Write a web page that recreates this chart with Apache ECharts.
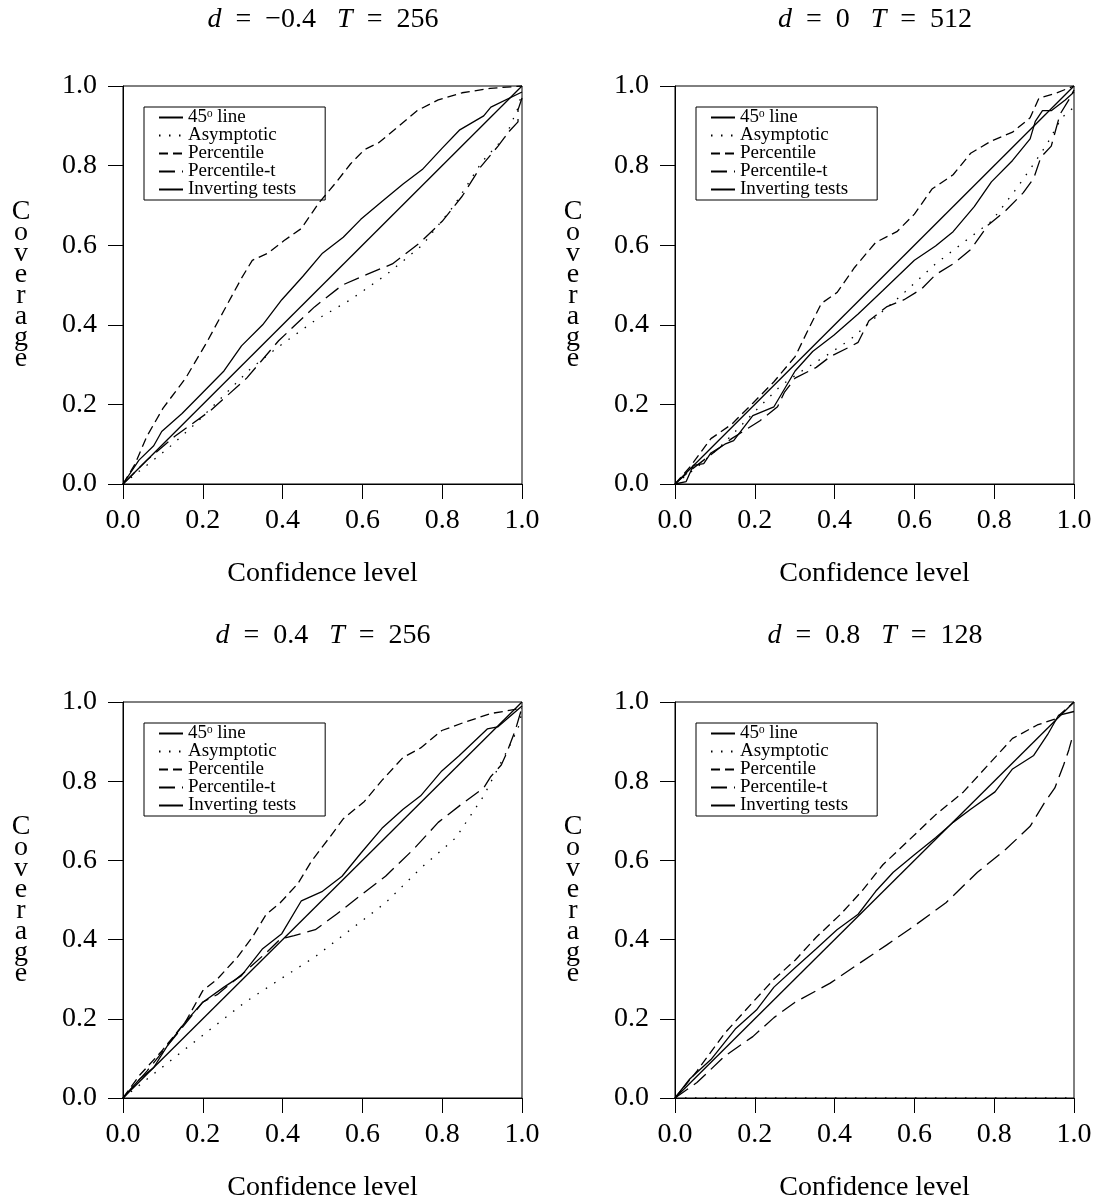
<!DOCTYPE html>
<html>
<head>
<meta charset="utf-8">
<script src="https://cdn.jsdelivr.net/npm/echarts@6/dist/echarts.min.js"></script>
<style>
  html, body { margin: 0; background: #fff; }
  #chart { width: 1100px; height: 1203px; }
</style>
</head>
<body>
<div id="chart"></div>
<script>
// legend order / series names
const seriesNames = ['45° line', 'Asymptotic', 'Percentile', 'Percentile-t', 'Inverting tests'];
const panelD = ['−0.4', '0', '0.4', '0.8'];
const panelT = ['256', '512', '256', '128'];

// 45 degree reference line (same in every panel)
const diagonal = [[0, 0], [1, 1]];

// panel 1: d = -0.4, T = 256
const p1Asymptotic = [[0, 0], [0.11, 0.087], [0.18, 0.15], [0.25, 0.22], [0.32, 0.29], [0.39, 0.345], [0.48, 0.41], [0.57, 0.463], [0.66, 0.526], [0.75, 0.6], [0.83, 0.7], [0.9, 0.81], [0.96, 0.875], [0.99, 0.945], [1, 0.985]];
const p1Percentile = [[0, 0], [0.03, 0.05], [0.06, 0.12], [0.1, 0.19], [0.157, 0.266], [0.21, 0.356], [0.253, 0.436], [0.297, 0.517], [0.324, 0.562], [0.363, 0.58], [0.403, 0.611], [0.447, 0.642], [0.49, 0.705], [0.535, 0.759], [0.57, 0.804], [0.605, 0.84], [0.64, 0.857], [0.684, 0.893], [0.737, 0.938], [0.79, 0.965], [0.85, 0.983], [0.92, 0.994], [1, 1]];
const p1PercentileT = [[0, 0], [0.06, 0.06], [0.13, 0.12], [0.22, 0.185], [0.31, 0.266], [0.39, 0.36], [0.48, 0.445], [0.55, 0.5], [0.61, 0.526], [0.675, 0.553], [0.745, 0.607], [0.8, 0.66], [0.85, 0.723], [0.895, 0.795], [0.94, 0.849], [0.966, 0.884], [0.99, 0.91], [0.99, 0.94], [1, 0.97]];
const p1Inverting = [[0, 0], [0.04, 0.06], [0.077, 0.096], [0.097, 0.132], [0.148, 0.177], [0.2, 0.23], [0.253, 0.284], [0.297, 0.347], [0.35, 0.4], [0.398, 0.463], [0.451, 0.522], [0.5, 0.58], [0.552, 0.62], [0.596, 0.665], [0.649, 0.71], [0.702, 0.754], [0.75, 0.79], [0.8, 0.844], [0.843, 0.889], [0.904, 0.925], [0.922, 0.947], [1, 0.985]];

// panel 2: d = 0, T = 512
const p2Asymptotic = [[0, 0], [0.055, 0.042], [0.125, 0.105], [0.195, 0.177], [0.266, 0.248], [0.318, 0.284], [0.389, 0.329], [0.442, 0.365], [0.512, 0.427], [0.565, 0.472], [0.653, 0.553], [0.723, 0.607], [0.793, 0.66], [0.855, 0.741], [0.899, 0.804], [0.934, 0.857], [0.969, 0.92], [1, 0.947]];
const p2Percentile = [[0, 0], [0.037, 0.042], [0.09, 0.114], [0.142, 0.15], [0.195, 0.203], [0.248, 0.257], [0.301, 0.32], [0.336, 0.392], [0.367, 0.454], [0.406, 0.481], [0.45, 0.544], [0.503, 0.607], [0.556, 0.634], [0.6, 0.678], [0.644, 0.741], [0.697, 0.777], [0.741, 0.831], [0.793, 0.862], [0.846, 0.884], [0.89, 0.92], [0.912, 0.969], [0.952, 0.981], [1, 1]];
const p2PercentileT = [[0, 0], [0.037, 0.033], [0.072, 0.06], [0.142, 0.114], [0.213, 0.159], [0.257, 0.194], [0.274, 0.23], [0.301, 0.266], [0.354, 0.293], [0.389, 0.32], [0.433, 0.342], [0.459, 0.356], [0.486, 0.41], [0.53, 0.445], [0.574, 0.463], [0.618, 0.49], [0.653, 0.526], [0.697, 0.553], [0.741, 0.589], [0.785, 0.651], [0.829, 0.687], [0.873, 0.732], [0.899, 0.768], [0.917, 0.821], [0.943, 0.849], [0.965, 0.929], [0.987, 0.965], [1, 0.99]];
const p2Inverting = [[0, 0], [0.028, 0.006], [0.046, 0.047], [0.072, 0.051], [0.09, 0.078], [0.125, 0.1], [0.147, 0.109], [0.195, 0.172], [0.248, 0.194], [0.301, 0.284], [0.345, 0.333], [0.398, 0.374], [0.459, 0.427], [0.521, 0.486], [0.6, 0.562], [0.653, 0.598], [0.697, 0.634], [0.75, 0.697], [0.793, 0.759], [0.846, 0.813], [0.89, 0.867], [0.903, 0.911], [0.921, 0.938], [0.943, 0.938], [0.978, 0.965], [1, 0.985]];

// panel 3: d = 0.4, T = 256
const p3Asymptotic = [[0, 0], [0.086, 0.068], [0.183, 0.145], [0.306, 0.242], [0.394, 0.3], [0.482, 0.357], [0.57, 0.425], [0.658, 0.493], [0.746, 0.58], [0.834, 0.657], [0.904, 0.763], [0.939, 0.831], [0.974, 0.899], [0.991, 0.937], [1, 0.976]];
const p3Percentile = [[0, 0], [0.042, 0.058], [0.095, 0.116], [0.157, 0.193], [0.2, 0.271], [0.236, 0.3], [0.288, 0.357], [0.324, 0.406], [0.359, 0.464], [0.394, 0.493], [0.438, 0.541], [0.473, 0.599], [0.517, 0.657], [0.552, 0.705], [0.605, 0.749], [0.649, 0.802], [0.702, 0.86], [0.746, 0.884], [0.799, 0.928], [0.851, 0.947], [0.922, 0.971], [1, 0.984]];
const p3PercentileT = [[0, 0], [0.06, 0.068], [0.13, 0.155], [0.2, 0.242], [0.236, 0.261], [0.306, 0.319], [0.359, 0.367], [0.394, 0.401], [0.429, 0.41], [0.482, 0.425], [0.535, 0.464], [0.596, 0.512], [0.658, 0.56], [0.728, 0.628], [0.79, 0.696], [0.851, 0.744], [0.904, 0.783], [0.922, 0.812], [0.948, 0.841], [0.961, 0.87], [0.983, 0.928], [1, 0.986]];
const p3Inverting = [[0, 0], [0.042, 0.048], [0.077, 0.077], [0.113, 0.135], [0.157, 0.193], [0.2, 0.242], [0.253, 0.28], [0.297, 0.309], [0.35, 0.377], [0.398, 0.415], [0.447, 0.498], [0.5, 0.522], [0.549, 0.56], [0.596, 0.618], [0.649, 0.681], [0.702, 0.729], [0.746, 0.763], [0.799, 0.826], [0.843, 0.865], [0.913, 0.932], [0.939, 0.937], [1, 0.99]];

// panel 4: d = 0.8, T = 128
const p4Asymptotic = [[0, 0], [1, 0]];
const p4Percentile = [[0, 0], [0.055, 0.068], [0.125, 0.164], [0.195, 0.242], [0.248, 0.3], [0.301, 0.348], [0.354, 0.406], [0.415, 0.464], [0.468, 0.522], [0.521, 0.589], [0.582, 0.647], [0.653, 0.715], [0.723, 0.773], [0.793, 0.85], [0.846, 0.908], [0.908, 0.942], [0.952, 0.957], [1, 1]];
const p4PercentileT = [[0, 0], [0.055, 0.039], [0.125, 0.106], [0.195, 0.155], [0.248, 0.203], [0.301, 0.242], [0.389, 0.29], [0.459, 0.338], [0.53, 0.386], [0.6, 0.435], [0.679, 0.493], [0.758, 0.57], [0.829, 0.628], [0.89, 0.686], [0.925, 0.744], [0.952, 0.783], [0.974, 0.841], [0.987, 0.879], [0.995, 0.908], [1, 0.91]];
const p4Inverting = [[0, 0], [0.037, 0.048], [0.09, 0.097], [0.151, 0.174], [0.204, 0.222], [0.248, 0.28], [0.301, 0.329], [0.354, 0.377], [0.406, 0.425], [0.459, 0.464], [0.503, 0.522], [0.547, 0.57], [0.6, 0.614], [0.653, 0.657], [0.697, 0.696], [0.741, 0.729], [0.802, 0.773], [0.846, 0.831], [0.899, 0.865], [0.934, 0.918], [0.961, 0.966], [1, 0.976]];

const panels = [
  [diagonal, p1Asymptotic, p1Percentile, p1PercentileT, p1Inverting],
  [diagonal, p2Asymptotic, p2Percentile, p2PercentileT, p2Inverting],
  [diagonal, p3Asymptotic, p3Percentile, p3PercentileT, p3Inverting],
  [diagonal, p4Asymptotic, p4Percentile, p4PercentileT, p4Inverting]
];

const FONT = '"Liberation Serif", "DejaVu Serif", serif';
const dashes = ['solid', [1.5, 8.5], [9, 5], [16, 7], 'solid'];

// grid boxes (px)
const lefts = [123, 675, 123, 675];
const tops = [86, 86, 702, 702];

const chart = echarts.init(document.getElementById('chart'));

const option = {
  animation: false,
  backgroundColor: '#fff',
  title: panelD.map((d, i) => ({
    text: '{i|d}  =  ' + d + '   {i|T}  =  ' + panelT[i],
    left: lefts[i] + 200,
    top: tops[i] - 80,
    textAlign: 'center',
    padding: 0,
    textStyle: {
      fontFamily: FONT, fontSize: 28, fontWeight: 'normal', color: '#000',
      rich: { i: { fontFamily: FONT, fontSize: 28, fontStyle: 'italic', color: '#000' } }
    }
  })),
  legend: panelD.map((d, i) => ({
    data: seriesNames,
    orient: 'vertical',
    left: lefts[i] + 21,
    top: tops[i] + 21,
    padding: [1, 29, 1, 14],
    itemGap: -1,
    itemWidth: 24,
    itemHeight: 12,
    borderColor: '#000',
    borderWidth: 1,
    selectedMode: false,
    itemStyle: { opacity: 0 },
    // superscript o, as in the printed legend
    formatter: n => n === '45° line' ? '45ᵒ line' : n,
    textStyle: { fontFamily: FONT, fontSize: 19, lineHeight: 19, color: '#000' }
  })),
  grid: lefts.map((l, i) => ({
    left: l, top: tops[i], width: 399, height: 398,
    show: true, borderColor: '#000', borderWidth: 1, containLabel: false
  })),
  xAxis: lefts.map((l, i) => ({
    type: 'value', gridIndex: i, min: 0, max: 1, interval: 0.2,
    name: 'Confidence level', nameLocation: 'middle', nameGap: 76,
    nameTextStyle: { fontFamily: FONT, fontSize: 28, color: '#000' },
    axisLine: { show: true, lineStyle: { color: '#000', width: 1 } },
    axisTick: { show: true, inside: false, length: 15, lineStyle: { color: '#000' } },
    axisLabel: { margin: 23, fontFamily: FONT, fontSize: 28, color: '#000', formatter: v => v.toFixed(1) },
    splitLine: { show: false }
  })),
  yAxis: lefts.map((l, i) => ({
    type: 'value', gridIndex: i, min: 0, max: 1, interval: 0.2,
    name: 'Coverage'.split('').join('\n'), nameLocation: 'middle', nameRotate: 0, nameGap: 102,
    nameTextStyle: { fontFamily: FONT, fontSize: 28, lineHeight: 21, color: '#000', align: 'center', verticalAlign: 'middle' },
    axisLine: { show: true, lineStyle: { color: '#000', width: 1 } },
    axisTick: { show: true, inside: false, length: 15, lineStyle: { color: '#000' } },
    axisLabel: { margin: 26, fontFamily: FONT, fontSize: 28, color: '#000', formatter: v => v.toFixed(1) },
    splitLine: { show: false }
  })),
  series: []
};

panels.forEach((lines, i) => {
  lines.forEach((data, k) => {
    option.series.push({
      name: seriesNames[k],
      type: 'line',
      xAxisIndex: i,
      yAxisIndex: i,
      data: data,
      symbol: 'none',
      silent: true,
      itemStyle: { color: 'rgba(0,0,0,0)' },
      lineStyle: { color: '#000', width: 1.3, type: dashes[k] }
    });
  });
});

chart.setOption(option);
</script>
</body>
</html>
